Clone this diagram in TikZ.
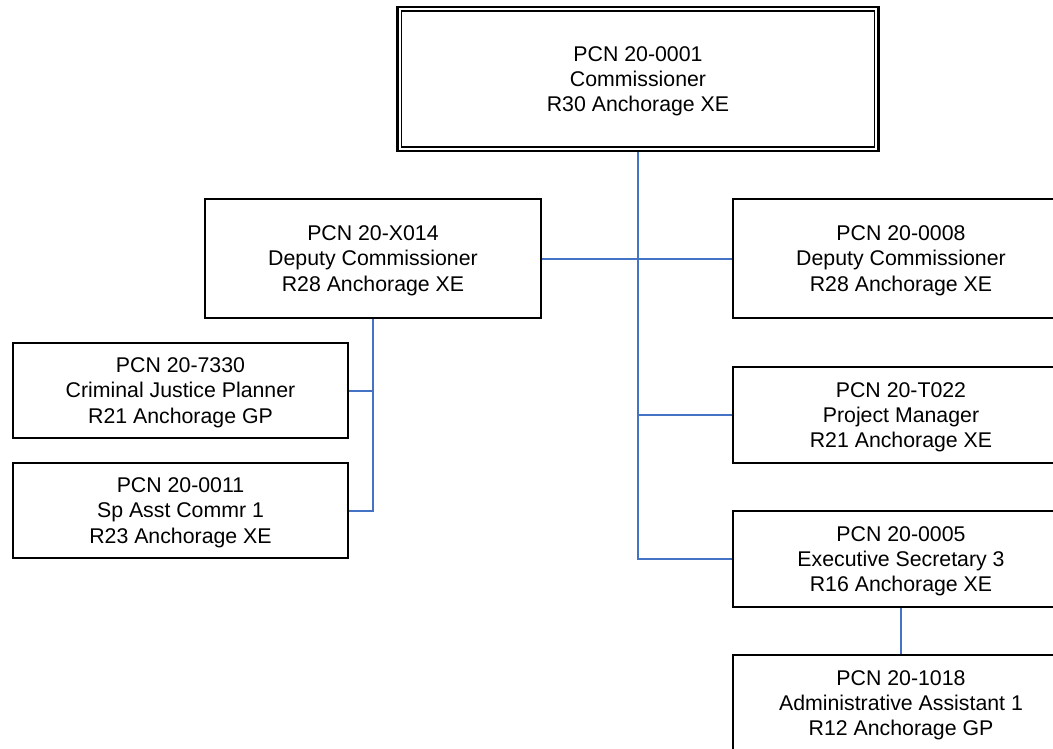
\documentclass[tikz,border=0pt]{standalone}
\usepackage{fontspec}
\setmainfont{Liberation Sans}
\definecolor{connblue}{HTML}{4472C4}
\begin{document}
\begin{tikzpicture}[x=1pt,y=-1pt,
  box/.style={draw=black, line width=2pt, fill=white, align=center, inner sep=0pt,
    font=\fontsize{21.3}{25.3}\selectfont, text depth=0pt,
    execute at begin node={\rule{0pt}{21pt}},
    minimum width=336pt, minimum height=96pt},
  depbox/.style={box, minimum height=119pt},
  topbox/.style={box, minimum width=481pt, minimum height=144pt, line width=2.2pt},
  conn/.style={draw=connblue, line width=2pt}]
\clip (0,0) rectangle (1053,749);
\fill[white] (0,0) rectangle (1053,749);

\node[topbox] (top) at (638,79) {PCN 20-0001\\Commissioner\\R30 Anchorage XE};
\draw[line width=1.3pt] ([xshift=5pt,yshift=-5pt]top.north west) rectangle ([xshift=-5pt,yshift=5pt]top.south east);

\node[depbox] (ldep) at (373,258.5) {PCN 20-X014\\Deputy Commissioner\\R28 Anchorage XE};
\node[depbox] (rdep) at (901,258.5) {PCN 20-0008\\Deputy Commissioner\\R28 Anchorage XE};

\node[box, minimum width=335pt, minimum height=95pt] (lc1) at (180.5,390.5) {PCN 20-7330\\Criminal Justice Planner\\R21 Anchorage GP};
\node[box, minimum width=335pt, minimum height=95pt] (lc2) at (180.5,510.5) {PCN 20-0011\\Sp Asst Commr 1\\R23 Anchorage XE};

\node[box] (pm) at (901,415) {PCN 20-T022\\Project Manager\\R21 Anchorage XE};
\node[box] (es) at (901,559) {PCN 20-0005\\Executive Secretary 3\\R16 Anchorage XE};
\node[box] (aa) at (901,703) {PCN 20-1018\\Administrative Assistant 1\\R12 Anchorage GP};

\draw[conn] (top.south) -- (top.south |- es.west) -- (es.west);
\draw[conn] (top.south |- pm.west) -- (pm.west);
\draw[conn] (ldep.east) -- (rdep.west);
\draw[conn] (ldep.south) -- (ldep.south |- lc2.east) -- (lc2.east);
\draw[conn] (ldep.south |- lc1.east) -- (lc1.east);
\draw[conn] (es.south) -- (aa.north);
\end{tikzpicture}
\end{document}
